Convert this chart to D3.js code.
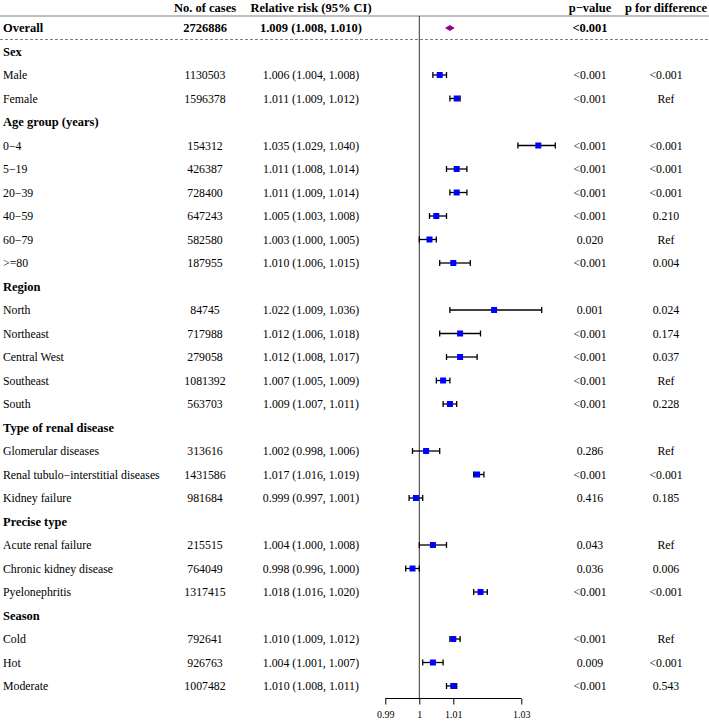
<!DOCTYPE html>
<html>
<head>
<meta charset="utf-8">
<script src="https://cdn.jsdelivr.net/npm/d3@7"></script>
<style>
  html, body { margin: 0; padding: 0; background: #fff; }
  svg { display: block; }
  text { font-family: "Liberation Serif", "Times New Roman", serif; fill: #000; }
</style>
</head>
<body>
<svg id="chart" width="709" height="721"></svg>
<script>
// ---- data ----
const labels = ["Overall", "Sex", "Male", "Female", "Age group (years)", "0\u22124", "5\u221219", "20\u221239", "40\u221259", "60\u221279", ">=80",
  "Region", "North", "Northeast", "Central West", "Southeast", "South",
  "Type of renal disease", "Glomerular diseases", "Renal tubulo\u2212interstitial diseases", "Kidney failure",
  "Precise type", "Acute renal failure", "Chronic kidney disease", "Pyelonephritis",
  "Season", "Cold", "Hot", "Moderate"];
const rowType = ["overall", "group", "item", "item", "group", "item", "item", "item", "item", "item", "item",
  "group", "item", "item", "item", "item", "item",
  "group", "item", "item", "item",
  "group", "item", "item", "item",
  "group", "item", "item", "item"];
const cases = ["2726886", "", "1130503", "1596378", "", "154312", "426387", "728400", "647243", "582580", "187955",
  "", "84745", "717988", "279058", "1081392", "563703",
  "", "313616", "1431586", "981684",
  "", "215515", "764049", "1317415",
  "", "792641", "926763", "1007482"];
const rr    = [1.009, null, 1.006, 1.011, null, 1.035, 1.011, 1.011, 1.005, 1.003, 1.010,
  null, 1.022, 1.012, 1.012, 1.007, 1.009,
  null, 1.002, 1.017, 0.999,
  null, 1.004, 0.998, 1.018,
  null, 1.010, 1.004, 1.010];
const lower = [1.008, null, 1.004, 1.009, null, 1.029, 1.008, 1.009, 1.003, 1.000, 1.006,
  null, 1.009, 1.006, 1.008, 1.005, 1.007,
  null, 0.998, 1.016, 0.997,
  null, 1.000, 0.996, 1.016,
  null, 1.009, 1.001, 1.008];
const upper = [1.010, null, 1.008, 1.012, null, 1.040, 1.014, 1.014, 1.008, 1.005, 1.015,
  null, 1.036, 1.018, 1.017, 1.009, 1.011,
  null, 1.006, 1.019, 1.001,
  null, 1.008, 1.000, 1.020,
  null, 1.012, 1.007, 1.011];
const pValue = ["<0.001", "", "<0.001", "<0.001", "", "<0.001", "<0.001", "<0.001", "<0.001", "0.020", "<0.001",
  "", "0.001", "<0.001", "<0.001", "<0.001", "<0.001",
  "", "0.286", "<0.001", "0.416",
  "", "0.043", "0.036", "<0.001",
  "", "<0.001", "0.009", "<0.001"];
const pDiff = ["", "", "<0.001", "Ref", "", "<0.001", "<0.001", "<0.001", "0.210", "Ref", "0.004",
  "", "0.024", "0.174", "0.037", "Ref", "0.228",
  "", "Ref", "<0.001", "0.185",
  "", "Ref", "0.006", "<0.001",
  "", "Ref", "<0.001", "0.543"];
const headers = ["No. of cases", "Relative risk (95% CI)", "p\u2212value", "p for difference"];
const xTicks = [0.99, 1, 1.01, 1.03];

// ---- layout ----
const svg = d3.select("#chart");
const W = 709;
const fmt = d3.format(".3f");
const ciText = i => `${fmt(rr[i])} (${fmt(lower[i])}, ${fmt(upper[i])})`;

const y = d3.scaleLinear().domain([0, labels.length - 1]).range([28, 686]);
const x = d3.scaleLinear().domain([0.99, 1.03]).range([385.3, 521.3]);

const colCases = 205, colRR = 311, colP = 590, colPD = 666;
const boldSize = "12.5px", regSize = "11.8px";

// header
const hdrY = 8;
[[colCases, headers[0]], [colRR, headers[1]], [colP, headers[2]], [colPD, headers[3]]].forEach(([cx, t]) => {
  svg.append("text").attr("x", cx).attr("y", hdrY).attr("dy", "0.35em")
    .attr("text-anchor", "middle").style("font-weight", "bold").style("font-size", boldSize).text(t);
});

// top solid line and dashed line
svg.append("line").attr("x1", 0).attr("x2", W).attr("y1", 16).attr("y2", 16)
  .attr("stroke", "#808080").attr("stroke-width", 1);
svg.append("line").attr("x1", 0).attr("x2", W).attr("y1", 39.5).attr("y2", 39.5)
  .attr("stroke", "#808080").attr("stroke-width", 1).attr("stroke-dasharray", "3,2");

// rows text
labels.forEach((lab, i) => {
  const bold = rowType[i] !== "item";
  const g = svg.append("g").attr("transform", `translate(0,${y(i)})`)
    .style("font-size", bold ? boldSize : regSize)
    .style("font-weight", bold ? "bold" : "normal");
  g.append("text").attr("x", 3).attr("dy", "0.35em").text(lab);
  if (cases[i]) g.append("text").attr("x", colCases).attr("dy", "0.35em").attr("text-anchor", "middle").text(cases[i]);
  if (rr[i] != null) g.append("text").attr("x", colRR).attr("dy", "0.35em").attr("text-anchor", "middle").text(ciText(i));
  if (pValue[i]) g.append("text").attr("x", colP).attr("dy", "0.35em").attr("text-anchor", "middle").text(pValue[i]);
  if (pDiff[i]) g.append("text").attr("x", colPD).attr("dy", "0.35em").attr("text-anchor", "middle").text(pDiff[i]);
});

// axis
const axisY = 698.5;
svg.append("line").attr("x1", x(1)).attr("x2", x(1)).attr("y1", 16).attr("y2", axisY)
  .attr("stroke", "#333").attr("stroke-width", 1);
const axis = d3.axisBottom(x).tickValues(xTicks).tickFormat(d => d === 1 ? "1" : String(d)).tickSize(6).tickPadding(6);
const ag = svg.append("g").attr("transform", `translate(0,${axisY})`).call(axis);
ag.select(".domain").attr("d", `M${x(0.99)},0H${x(1.03)}`).attr("stroke", "#000");
ag.selectAll(".tick line").attr("stroke", "#000");
ag.selectAll(".tick text").style("font-family", '"Liberation Serif", "Times New Roman", serif').style("font-size", "10px").attr("fill", "#000");

// marks
const cap = 3;
labels.forEach((lab, i) => {
  if (rr[i] == null) return;
  const cy = y(i);
  if (rowType[i] === "overall") {
    const h = 2.5;
    svg.append("path")
      .attr("d", `M${x(lower[i]) - 0.8},${cy}L${x(rr[i])},${cy - h}L${x(upper[i]) + 0.8},${cy}L${x(rr[i])},${cy + h}Z`)
      .attr("fill", "#8B008B").attr("stroke", "#8B008B").attr("stroke-width", 0.8);
    return;
  }
  const g = svg.append("g");
  g.append("line").attr("x1", x(lower[i])).attr("x2", x(upper[i])).attr("y1", cy).attr("y2", cy)
    .attr("stroke", "#000").attr("stroke-width", 1.3);
  [lower[i], upper[i]].forEach(v => {
    g.append("line").attr("x1", x(v)).attr("x2", x(v)).attr("y1", cy - cap).attr("y2", cy + cap)
      .attr("stroke", "#000").attr("stroke-width", 1.3);
  });
  const s = 6;
  g.append("rect").attr("x", x(rr[i]) - s / 2).attr("y", cy - s / 2).attr("width", s).attr("height", s)
    .attr("fill", "#0000FF");
});
</script>
</body>
</html>
